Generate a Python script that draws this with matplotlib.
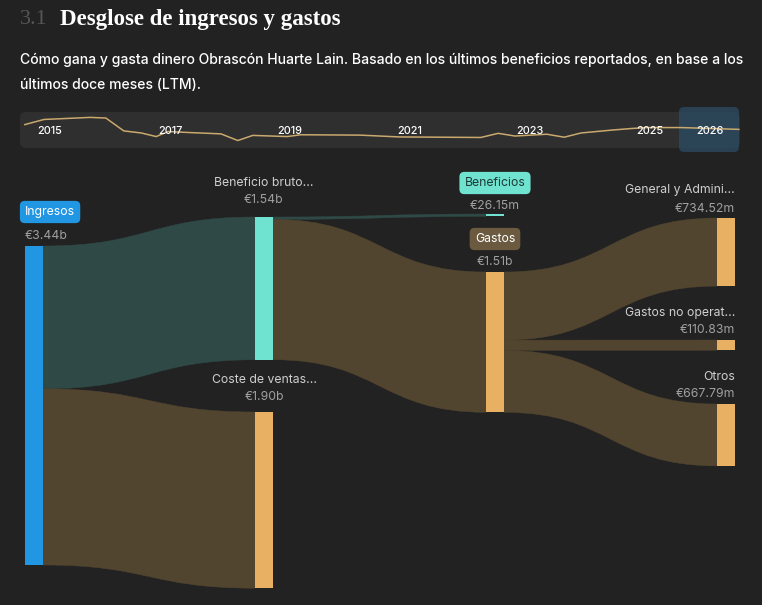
import numpy as np
import matplotlib
matplotlib.use('Agg')
import matplotlib.pyplot as plt
from matplotlib.path import Path
from matplotlib.patches import PathPatch, FancyBboxPatch, Rectangle

BG = '#222222'
SANS = ['Inter', 'DejaVu Sans']
SERIF = ['Liberation Serif', 'DejaVu Serif']

# Sankey data (billions of EUR, LTM)
node_names = ['Ingresos', 'Beneficio bruto...', 'Coste de ventas...', 'Beneficios',
              'Gastos', 'General y Admini...', 'Gastos no operat...', 'Otros']
node_values = [3.44, 1.54, 1.90, 0.02615, 1.51314, 0.73452, 0.11083, 0.66779]
node_value_labels = ['€3.44b', '€1.54b', '€1.90b', '€26.15m', '€1.51b',
                     '€734.52m', '€110.83m', '€667.79m']
link_source = [0, 0, 1, 1, 4, 4, 4]
link_target = [1, 2, 3, 4, 5, 6, 7]
link_values = [1.54, 1.90, 0.02615, 1.51314, 0.73452, 0.11083, 0.66779]

# Timeline strip (revenue trend, index)
trend_years = [2014.58, 2014.9, 2015.67, 2015.93, 2016.23, 2016.52, 2016.77, 2016.97,
               2017.28, 2017.85, 2018.13, 2018.38, 2018.95, 2019.18, 2020.17, 2020.82,
               2022.18, 2022.47, 2022.75, 2023.28, 2023.57, 2023.85, 2024.38, 2024.7,
               2024.95, 2025.52, 2026.48]
trend_values = [26, 31.7, 34, 33.3, 19, 16.7, 12.7, 18.3, 17.3, 15.7, 8.3, 14, 12.7,
                14.7, 14.3, 12.3, 11.7, 16.3, 13.3, 15.3, 12, 16.7, 20, 21.7, 22.7,
                22.7, 20.7]
tick_years = [2015, 2017, 2019, 2021, 2023, 2025, 2026]

# ---- layout (pixels) ----
col_x = [25, 255, 255, 486, 486, 717, 717, 717]
node_top = [246, 217, 412, 214, 272, 218, 340, 404]
NODE_W = 18
SCALE = 319 / 3.44  # px per billion

TEAL = '#6fe3d0'
ORANGE = '#e8b062'
BLUE = '#2196e3'
node_colors = [BLUE, TEAL, ORANGE, TEAL, ORANGE, ORANGE, ORANGE, ORANGE]
LINK_TEAL = '#2f4a46'
LINK_BROWN = '#52452f'
link_colors = [LINK_TEAL, LINK_BROWN, LINK_TEAL, LINK_BROWN, LINK_BROWN, LINK_BROWN, LINK_BROWN]

fig = plt.figure(figsize=(7.62, 6.05), dpi=100, facecolor=BG)
ax = fig.add_axes([0, 0, 1, 1])
ax.set_xlim(0, 762)
ax.set_ylim(605, 0)
ax.axis('off')
ax.set_facecolor(BG)

# Title and subtitle
ax.text(20, 20, '3.1', color='#555555', fontsize=16, family=SERIF, va='center')
ax.text(60, 20, 'Desglose de ingresos y gastos', color='white', fontsize=16.5,
        family=SERIF, weight='bold', va='center')
ax.text(20, 60, 'Cómo gana y gasta dinero Obrascón Huarte Lain. Basado en los últimos '
        'beneficios reportados, en base a los', color='white', fontsize=10.1,
        family=SANS, weight='medium', va='center')
ax.text(20, 85, 'últimos doce meses (LTM).', color='white', fontsize=10.1,
        family=SANS, weight='medium', va='center')

# Timeline strip
ax.add_patch(FancyBboxPatch((20, 112), 720, 36, boxstyle='round,pad=0,rounding_size=6',
                            fc='#2f2f2f', ec='none', zorder=1))
ax.add_patch(FancyBboxPatch((679, 107), 60, 45, boxstyle='round,pad=0,rounding_size=5',
                            fc='#2b4a60', ec='none', alpha=0.8, zorder=6))
tl = fig.add_axes([20 / 762, 1 - 148 / 605, 720 / 762, 36 / 605])
tl.set_xlim(2014.5, 2026.5)
tl.set_ylim(0, 40)
tl.axis('off')
tl.patch.set_alpha(0)
tl.plot(trend_years, trend_values, color='#c9a96e', lw=1.1, zorder=2)
for yr in tick_years:
    tl.text(yr, 18.5, str(yr), color='white', fontsize=7.8, family=SANS,
            weight='medium', ha='center', va='center', zorder=4)

# Sankey nodes
heights = [v * SCALE for v in node_values]
for i in range(len(node_names)):
    ax.add_patch(Rectangle((col_x[i], node_top[i]), NODE_W, heights[i],
                           fc=node_colors[i], ec='none', zorder=3))

# Sankey links
out_off = [0.0] * len(node_names)
in_off = [0.0] * len(node_names)
for s, t, v, c in zip(link_source, link_target, link_values, link_colors):
    h = v * SCALE
    x0 = col_x[s] + NODE_W
    x1 = col_x[t]
    y0a = node_top[s] + out_off[s]
    y1a = node_top[t] + in_off[t]
    y0b, y1b = y0a + h, y1a + h
    out_off[s] += h
    in_off[t] += h
    xm = (x0 + x1) / 2
    verts = [(x0, y0a), (xm, y0a), (xm, y1a), (x1, y1a),
             (x1, y1b), (xm, y1b), (xm, y0b), (x0, y0b), (x0, y0a)]
    codes = [Path.MOVETO, Path.CURVE4, Path.CURVE4, Path.CURVE4,
             Path.LINETO, Path.CURVE4, Path.CURVE4, Path.CURVE4, Path.CLOSEPOLY]
    ax.add_patch(PathPatch(Path(verts, codes), fc=c, ec=c, lw=0.3, zorder=2))

# Node labels: (x, name_y, value_y, ha, box colour, box text colour)
label_cfg = [
    (25, 212, 236, 'left', BLUE, 'white'),
    (264, 183, 200, 'center', None, None),
    (264, 380, 397, 'center', None, None),
    (495, 183, 206, 'center', TEAL, '#1d3a36'),
    (495, 239, 262, 'center', '#6b5a40', 'white'),
    (735, 190, 209, 'right', None, None),
    (735, 313, 330, 'right', None, None),
    (735, 377, 394, 'right', None, None),
]
FS = 8.8
for i, (lx, ny, vy, ha, boxc, boxtc) in enumerate(label_cfg):
    if boxc is None:
        ax.text(lx, ny, node_names[i], color='#cfcfcf', fontsize=FS, family=SANS,
                ha=ha, va='center', zorder=5)
    else:
        ax.text(lx, ny, node_names[i], color=boxtc, fontsize=FS, family=SANS,
                ha=ha, va='center', zorder=5,
                bbox=dict(boxstyle='round,pad=0.42,rounding_size=0.4', fc=boxc, ec='none'))
    ax.text(lx, vy, node_value_labels[i], color='#a0a0a0', fontsize=FS, family=SANS,
            ha=ha, va='center', zorder=5)

fig.savefig('out.png', dpi=100, facecolor=BG)
